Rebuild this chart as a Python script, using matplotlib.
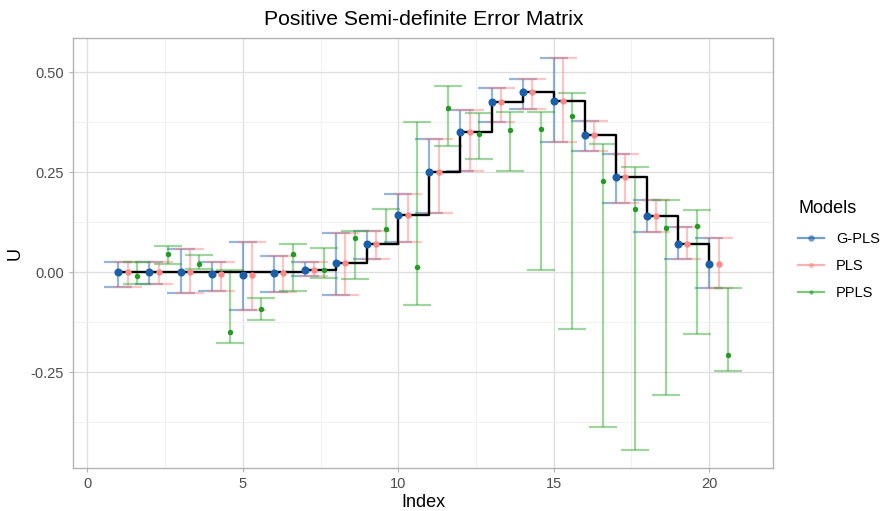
import matplotlib
matplotlib.use("Agg")
import matplotlib.pyplot as plt
from matplotlib.lines import Line2D
import numpy as np

plt.rcParams['font.family'] = ['Liberation Sans', 'DejaVu Sans']

# Index positions
index = list(range(1, 21))

# True values (step line)
truth = [0.0, 0.0, 0.0, 0.0, 0.0, 0.0, 0.007, 0.024, 0.071, 0.143,
         0.25, 0.352, 0.425, 0.45, 0.429, 0.343, 0.238, 0.141, 0.072, 0.021]

# G-PLS estimates with lower / upper bounds
gpls_mean = [0.0, 0.0, 0.001, -0.003, -0.006, -0.001, 0.007, 0.024, 0.071, 0.143,
             0.25, 0.352, 0.425, 0.45, 0.429, 0.343, 0.238, 0.141, 0.072, 0.021]
gpls_low = [-0.037, -0.029, -0.053, -0.048, -0.095, -0.05, -0.008, -0.058, 0.034, 0.076,
            0.149, 0.254, 0.376, 0.408, 0.327, 0.304, 0.173, 0.10, 0.033, -0.04]
gpls_high = [0.027, 0.025, 0.058, 0.027, 0.075, 0.04, 0.026, 0.099, 0.104, 0.197,
             0.333, 0.407, 0.462, 0.484, 0.537, 0.379, 0.297, 0.182, 0.113, 0.086]

# PLS estimates with lower / upper bounds
pls_mean = [0.0, 0.0, 0.001, -0.003, -0.006, -0.001, 0.007, 0.024, 0.071, 0.143,
            0.25, 0.352, 0.425, 0.45, 0.429, 0.343, 0.238, 0.141, 0.072, 0.021]
pls_low = [-0.037, -0.029, -0.053, -0.048, -0.095, -0.05, -0.008, -0.058, 0.034, 0.076,
           0.149, 0.254, 0.376, 0.408, 0.327, 0.304, 0.173, 0.10, 0.033, -0.04]
pls_high = [0.027, 0.025, 0.058, 0.027, 0.075, 0.04, 0.026, 0.099, 0.104, 0.197,
            0.333, 0.407, 0.462, 0.484, 0.537, 0.379, 0.297, 0.182, 0.113, 0.086]

# PPLS estimates with lower / upper bounds
ppls_mean = [-0.009, 0.046, 0.022, -0.15, -0.092, 0.047, 0.006, 0.086, 0.109, 0.013,
             0.411, 0.347, 0.357, 0.358, 0.392, 0.229, 0.158, 0.111, 0.115, -0.206]
ppls_low = [-0.029, 0.02, 0.009, -0.176, -0.119, -0.046, -0.013, -0.016, 0.072, -0.082,
            0.317, 0.283, 0.253, 0.006, -0.141, -0.386, -0.444, -0.308, -0.154, -0.247]
ppls_high = [0.027, 0.066, 0.043, 0.007, -0.064, 0.072, 0.062, 0.104, 0.158, 0.377,
             0.467, 0.399, 0.401, 0.40, 0.449, 0.322, 0.263, 0.181, 0.157, -0.039]

models = ['G-PLS', 'PLS', 'PPLS']
offsets = [0.0, 0.3, 0.6]
point_colors = ['#1a5fa8', '#f88a8a', '#239a23']
bar_colors = ['#1a5fa8', '#ff8080', '#2ca02c']
marker_sizes = [5.8, 4.6, 3.9]
series = [(gpls_mean, gpls_low, gpls_high),
          (pls_mean, pls_low, pls_high),
          (ppls_mean, ppls_low, ppls_high)]

fig = plt.figure(figsize=(8.81, 5.11), dpi=100)
ax = fig.add_axes([0.0825, 0.0836, 0.7952, 0.8414])

x0 = np.array(index, dtype=float)

# Error bars
for (m, lo, hi), off, bc in zip(series, offsets, bar_colors):
    xs = x0 + off
    m = np.array(m); lo = np.array(lo); hi = np.array(hi)
    ax.errorbar(xs, m, yerr=[m - lo, hi - m], fmt='none', ecolor=bc,
                alpha=0.45, elinewidth=1.6, capsize=10.1, capthick=1.6, zorder=3)

# Step line of true values
ax.step(x0, truth, where='post', color='black', lw=1.7, zorder=4)

# Point estimates
for (m, lo, hi), off, pc, ms in zip(series, offsets, point_colors, marker_sizes):
    ax.plot(x0 + off, m, 'o', color=pc, ms=ms, mew=0, zorder=5)

ax.set_xlim(-0.47, 22.06)
ax.set_ylim(-0.49, 0.585)
ax.set_xticks([0, 5, 10, 15, 20])
ax.set_yticks([-0.25, 0.0, 0.25, 0.5])
ax.set_yticklabels(['-0.25', '0.00', '0.25', '0.50'])
ax.set_xticks([2.5, 7.5, 12.5, 17.5], minor=True)
ax.set_yticks([-0.375, -0.125, 0.125, 0.375], minor=True)

ax.grid(True, which='major', color='#dedede', lw=0.9)
ax.grid(True, which='minor', color='#efefef', lw=0.6)
ax.set_axisbelow(True)
for s in ax.spines.values():
    s.set_color('#b3b3b3')
    s.set_linewidth(1.0)
ax.tick_params(which='major', colors='#b3b3b3', length=3, width=0.8,
               labelcolor='#4d4d4d', labelsize=10.5)
ax.tick_params(which='minor', length=0)

ax.set_xlabel('Index', fontsize=13, color='black', labelpad=2)
ax.set_ylabel('U', fontsize=13, color='black', labelpad=5)
fig.suptitle('Positive Semi-definite Error Matrix', fontsize=15.2, x=0.481, y=0.981)

handles = [Line2D([0], [0], color=bc, lw=1.6, alpha=0.6, marker='o',
                  markerfacecolor=pc, markeredgewidth=0, markersize=ms * 0.8)
           for bc, pc, ms in zip(bar_colors, point_colors, marker_sizes)]
leg = fig.legend(handles, models, title='Models', loc='upper left',
                 bbox_to_anchor=(0.906, 0.605), frameon=False, fontsize=10.5,
                 title_fontsize=13, handlelength=1.8, labelspacing=0.9,
                 handletextpad=0.8, borderpad=0, borderaxespad=0)
leg._legend_box.align = 'left'
leg.get_title().set_y(2)

fig.savefig('out.png', dpi=100)
